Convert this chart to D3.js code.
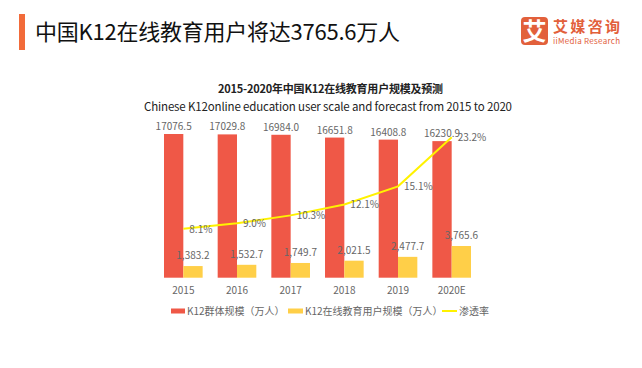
<!DOCTYPE html>
<html lang="zh">
<head>
<meta charset="UTF-8">
<title>中国K12在线教育用户将达3765.6万人</title>
<script src="https://d3js.org/d3.v7.min.js"></script>
<style>
  html, body { margin: 0; padding: 0; background: #fff; }
  svg { display: block; font-family: "Noto Sans CJK SC", "Noto Sans", sans-serif; }
</style>
</head>
<body>
<svg id="chart" width="642" height="368"></svg>
<script>
// data
const years = ["2015", "2016", "2017", "2018", "2019", "2020E"];
const groupSize = [17076.5, 17029.8, 16984.0, 16651.8, 16408.8, 16230.9];   // K12群体规模（万人）
const onlineUsers = [1383.2, 1532.7, 1749.7, 2021.5, 2477.7, 3765.6];       // K12在线教育用户规模（万人）
const penetration = [8.1, 9.0, 10.3, 12.1, 15.1, 23.2];                      // 渗透率 %
const seriesNames = ["K12群体规模（万人）", "K12在线教育用户规模（万人）", "渗透率"];

const RED = "#EF5847", YEL = "#FFCF48", LINE = "#FFF200", TXT = "#666";

const svg = d3.select("#chart");

// header
svg.append("rect").attr("x", 19).attr("y", 14).attr("width", 6).attr("height", 36).attr("fill", "#F26B3A");
svg.append("text").attr("x", 35).attr("y", 40)
  .attr("font-size", 22).attr("fill", "#111").attr("textLength", 365)
  .text("中国K12在线教育用户将达3765.6万人");

// logo
const logo = svg.append("g");
logo.append("rect").attr("x", 521).attr("y", 17).attr("width", 27).attr("height", 28).attr("rx", 4).attr("fill", "#E2603B");
logo.append("text").attr("x", 534.5).attr("y", 39.5).attr("text-anchor", "middle")
  .attr("font-size", 24).attr("font-weight", "bold").attr("fill", "#fff").text("艾");
logo.append("text").attr("x", 553).attr("y", 32).attr("font-size", 15).attr("font-weight", "bold")
  .attr("fill", "#E2603B").attr("textLength", 67).text("艾媒咨询");
logo.append("text").attr("x", 553).attr("y", 44).attr("font-size", 8)
  .attr("fill", "#E2603B").attr("textLength", 67).text("iiMedia Research");

// chart titles
svg.append("text").attr("x", 218).attr("y", 93)
  .attr("font-size", 11).attr("font-weight", "bold").attr("fill", "#222")
  .attr("textLength", 225)
  .text("2015-2020年中国K12在线教育用户规模及预测");
svg.append("text").attr("x", 144).attr("y", 110.5)
  .attr("font-size", 11.5).attr("fill", "#222").attr("textLength", 368)
  .text("Chinese K12online education user scale and forecast from 2015 to 2020");

// scales
const x = d3.scaleBand().domain(years).range([164, 471]).paddingInner(0.28).paddingOuter(0);
const xSub = d3.scaleBand().domain([0, 1]).range([0, x.bandwidth()]);
const y = d3.scaleLinear().domain([0, 20000]).range([277.7, 109.4]);
const yR = d3.scaleLinear().domain([0, 28]).range([277.7, 108.3]);

const g = svg.append("g");

// red bars
g.selectAll(".bar-red").data(groupSize).join("rect")
  .attr("x", (d, i) => x(years[i]) + xSub(0))
  .attr("width", xSub.bandwidth())
  .attr("y", d => y(d)).attr("height", d => y(0) - y(d))
  .attr("fill", RED);

// yellow bars
g.selectAll(".bar-yel").data(onlineUsers).join("rect")
  .attr("x", (d, i) => x(years[i]) + xSub(1))
  .attr("width", xSub.bandwidth())
  .attr("y", d => y(d)).attr("height", d => y(0) - y(d))
  .attr("fill", YEL);

// bar labels
const fmt = d3.format(",.1f");
g.selectAll(".lab-red").data(groupSize).join("text")
  .attr("x", (d, i) => x(years[i]) + xSub(0) + xSub.bandwidth() / 2)
  .attr("y", d => y(d) - 4)
  .attr("text-anchor", "middle").attr("font-size", 10).attr("fill", TXT)
  .text(d => d.toFixed(1));
g.selectAll(".lab-yel").data(onlineUsers).join("text")
  .attr("x", (d, i) => x(years[i]) + xSub(1) + xSub.bandwidth() / 2)
  .attr("y", d => y(d) - 7)
  .attr("text-anchor", "middle").attr("font-size", 10).attr("fill", TXT)
  .text(d => fmt(d));

// penetration line
const cx = i => x(years[i]) + x.bandwidth() / 2;
g.append("path").datum(penetration)
  .attr("fill", "none").attr("stroke", LINE).attr("stroke-width", 2)
  .attr("d", d3.line().x((d, i) => cx(i)).y(d => yR(d)));
g.selectAll(".lab-pct").data(penetration).join("text")
  .attr("x", (d, i) => cx(i) + 6)
  .attr("y", d => yR(d) + 4)
  .attr("font-size", 10).attr("fill", TXT)
  .text(d => d.toFixed(1) + "%");

// x axis labels
const xAxis = g.append("g").attr("transform", "translate(0,277.7)")
  .call(d3.axisBottom(x).tickSize(0).tickPadding(9));
xAxis.select(".domain").remove();
xAxis.selectAll("text").attr("font-size", 10).attr("fill", TXT)
  .attr("font-family", "'Noto Sans CJK SC', sans-serif");

// legend
const leg = svg.append("g").attr("font-size", 10).attr("fill", TXT);
leg.append("rect").attr("x", 171).attr("y", 308.5).attr("width", 14).attr("height", 5).attr("fill", RED);
leg.append("text").attr("x", 187).attr("y", 315).text(seriesNames[0]);
leg.append("rect").attr("x", 288).attr("y", 308.5).attr("width", 15).attr("height", 5).attr("fill", YEL);
leg.append("text").attr("x", 305).attr("y", 315).text(seriesNames[1]);
leg.append("line").attr("x1", 442).attr("x2", 457).attr("y1", 311).attr("y2", 311)
  .attr("stroke", LINE).attr("stroke-width", 2);
leg.append("text").attr("x", 459).attr("y", 315).text(seriesNames[2]);
</script>
</body>
</html>
